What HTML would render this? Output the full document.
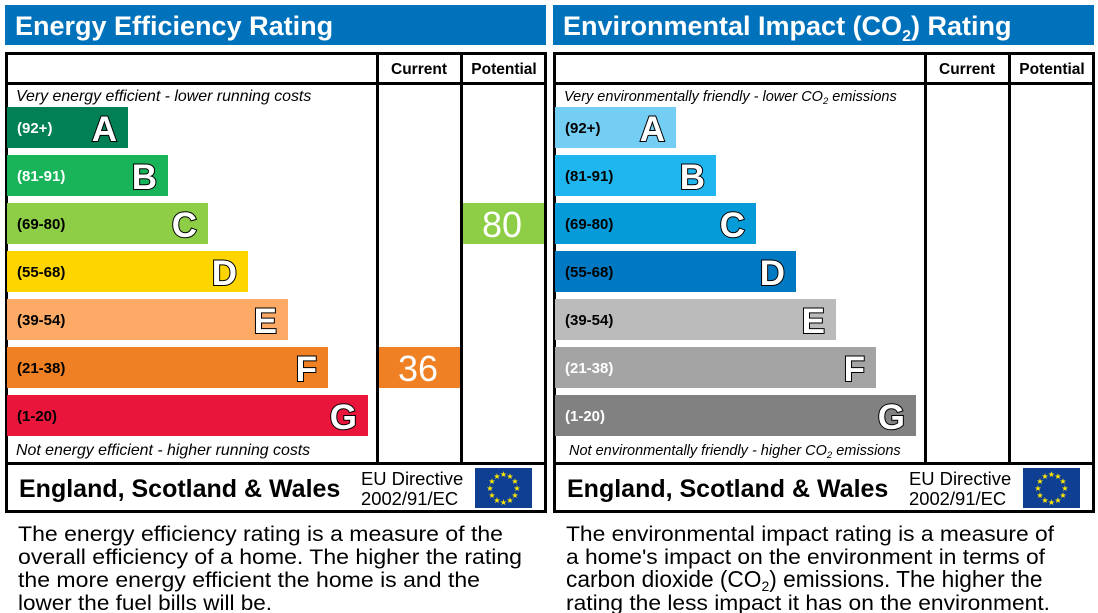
<!DOCTYPE html>
<html><head><meta charset="utf-8"><style>
body{margin:0;background:#fff;width:1098px;height:613px;overflow:hidden}
svg{display:block;font-family:"Liberation Sans",Arial,sans-serif}
.l{font-size:15px;font-weight:bold}
.g{font-size:35px;font-weight:bold;fill:#fff;stroke:#000;stroke-width:2px;paint-order:stroke;text-anchor:end}
.it{font-style:italic}
.h{font-size:27px;font-weight:bold;fill:#fff}
.ch{font-size:15.5px;font-weight:bold;text-anchor:middle}
.ft{font-size:25px;font-weight:bold}
.eu{font-size:18.4px}
.d{font-size:21px}
.n{font-size:36px;fill:#fff;text-anchor:middle}
</style></head><body>
<svg width="1098" height="613" viewBox="0 0 1098 613">
<defs>
<g id="flag"><rect width="57" height="40" fill="#0e3f93"/>
<g fill="#ffe800" font-size="8" text-anchor="middle">
<text x="28.5" y="9">★</text><text x="35" y="11">★</text><text x="40" y="16">★</text><text x="42" y="23">★</text><text x="40" y="30">★</text><text x="35" y="35">★</text><text x="28.5" y="37">★</text><text x="22" y="35">★</text><text x="17" y="30">★</text><text x="15" y="23">★</text><text x="17" y="16">★</text><text x="22" y="11">★</text></g></g>
</defs>
<!-- LEFT -->
<rect x="5" y="5" width="541" height="40" fill="#0072bb"/>
<text class="h" x="15" y="35">Energy Efficiency Rating</text>
<rect x="6.5" y="53.5" width="539" height="458" fill="none" stroke="#000" stroke-width="3"/>
<line x1="5" y1="83.5" x2="546" y2="83.5" stroke="#000" stroke-width="3"/>
<line x1="5" y1="463.5" x2="546" y2="463.5" stroke="#000" stroke-width="3"/>
<line x1="377.5" y1="53" x2="377.5" y2="463" stroke="#000" stroke-width="3"/>
<line x1="461.5" y1="53" x2="461.5" y2="463" stroke="#000" stroke-width="3"/>
<text class="ch" x="419" y="74">Current</text><text class="ch" x="504" y="74">Potential</text>
<text class="it" font-size="15.9" x="16" y="101">Very energy efficient - lower running costs</text>
<rect x="7" y="107" width="121" height="41" fill="#008054"/><text class="l" x="17" y="133" fill="#fff">(92+)</text><text class="g" x="117" y="141">A</text>
<rect x="7" y="155" width="161" height="41" fill="#19b459"/><text class="l" x="17" y="181" fill="#fff">(81-91)</text><text class="g" x="157" y="189">B</text>
<rect x="7" y="203" width="201" height="41" fill="#8dce46"/><text class="l" x="17" y="229">(69-80)</text><text class="g" x="197" y="237">C</text>
<rect x="7" y="251" width="241" height="41" fill="#ffd500"/><text class="l" x="17" y="277">(55-68)</text><text class="g" x="237" y="285">D</text>
<rect x="7" y="299" width="281" height="41" fill="#fcaa65"/><text class="l" x="17" y="325">(39-54)</text><text class="g" x="277" y="333">E</text>
<rect x="7" y="347" width="321" height="41" fill="#ef8023"/><text class="l" x="17" y="373">(21-38)</text><text class="g" x="317" y="381">F</text>
<rect x="7" y="395" width="361" height="41" fill="#e9153b"/><text class="l" x="17" y="421">(1-20)</text><text class="g" x="357" y="429">G</text>
<text class="it" font-size="15.9" x="16" y="455">Not energy efficient - higher running costs</text>
<rect x="379" y="347" width="81" height="41" fill="#ef8023"/><text class="n" x="418" y="381">36</text>
<rect x="463" y="203" width="81" height="41" fill="#8dce46"/><text class="n" x="502" y="237">80</text>
<text class="ft" x="19" y="497">England, Scotland &amp; Wales</text>
<text class="eu" x="361" y="485">EU Directive</text><text class="eu" x="361" y="505">2002/91/EC</text>
<use href="#flag" x="475" y="468"/>
<text class="d" x="18" y="541" textLength="485" lengthAdjust="spacingAndGlyphs">The energy efficiency rating is a measure of the</text>
<text class="d" x="18" y="564" textLength="504" lengthAdjust="spacingAndGlyphs">overall efficiency of a home. The higher the rating</text>
<text class="d" x="18" y="587" textLength="462" lengthAdjust="spacingAndGlyphs">the more energy efficient the home is and the</text>
<text class="d" x="18" y="610" textLength="254" lengthAdjust="spacingAndGlyphs">lower the fuel bills will be.</text>
<!-- RIGHT -->
<rect x="553" y="5" width="541" height="40" fill="#0072bb"/>
<text class="h" x="563" y="35">Environmental Impact (CO<tspan font-size="16" dy="6">2</tspan><tspan dy="-6">) Rating</tspan></text>
<rect x="554.5" y="53.5" width="539" height="458" fill="none" stroke="#000" stroke-width="3"/>
<line x1="553" y1="83.5" x2="1094" y2="83.5" stroke="#000" stroke-width="3"/>
<line x1="553" y1="463.5" x2="1094" y2="463.5" stroke="#000" stroke-width="3"/>
<line x1="925.5" y1="53" x2="925.5" y2="463" stroke="#000" stroke-width="3"/>
<line x1="1009.5" y1="53" x2="1009.5" y2="463" stroke="#000" stroke-width="3"/>
<text class="ch" x="967" y="74">Current</text><text class="ch" x="1052" y="74">Potential</text>
<text class="it" x="564" y="101" font-size="14.5">Very environmentally friendly - lower CO<tspan font-size="9.5" dy="3">2</tspan><tspan dy="-3"> emissions</tspan></text>
<rect x="555" y="107" width="121" height="41" fill="#74cdf3"/><text class="l" x="565" y="133">(92+)</text><text class="g" x="665" y="141">A</text>
<rect x="555" y="155" width="161" height="41" fill="#1fb6f0"/><text class="l" x="565" y="181">(81-91)</text><text class="g" x="705" y="189">B</text>
<rect x="555" y="203" width="201" height="41" fill="#059bd8"/><text class="l" x="565" y="229">(69-80)</text><text class="g" x="745" y="237">C</text>
<rect x="555" y="251" width="241" height="41" fill="#0079c2"/><text class="l" x="565" y="277">(55-68)</text><text class="g" x="785" y="285">D</text>
<rect x="555" y="299" width="281" height="41" fill="#bbbbbb"/><text class="l" x="565" y="325">(39-54)</text><text class="g" x="825" y="333">E</text>
<rect x="555" y="347" width="321" height="41" fill="#a4a4a4"/><text class="l" x="565" y="373" fill="#fff">(21-38)</text><text class="g" x="865" y="381">F</text>
<rect x="555" y="395" width="361" height="41" fill="#818181"/><text class="l" x="565" y="421" fill="#fff">(1-20)</text><text class="g" x="905" y="429">G</text>
<text class="it" x="569" y="455" font-size="14.5">Not environmentally friendly - higher CO<tspan font-size="9.5" dy="3">2</tspan><tspan dy="-3"> emissions</tspan></text>
<text class="ft" x="567" y="497">England, Scotland &amp; Wales</text>
<text class="eu" x="909" y="485">EU Directive</text><text class="eu" x="909" y="505">2002/91/EC</text>
<use href="#flag" x="1023" y="468"/>
<text class="d" x="566" y="541" textLength="488" lengthAdjust="spacingAndGlyphs">The environmental impact rating is a measure of</text>
<text class="d" x="566" y="564" textLength="479" lengthAdjust="spacingAndGlyphs">a home's impact on the environment in terms of</text>
<text x="566" y="587" style="font-size:22.7px">carbon dioxide (CO<tspan style="font-size:14px" dy="4">2</tspan><tspan dy="-4">) emissions. The higher the</tspan></text>
<text class="d" x="566" y="610" textLength="484" lengthAdjust="spacingAndGlyphs">rating the less impact it has on the environment.</text>
</svg>
</body></html>
